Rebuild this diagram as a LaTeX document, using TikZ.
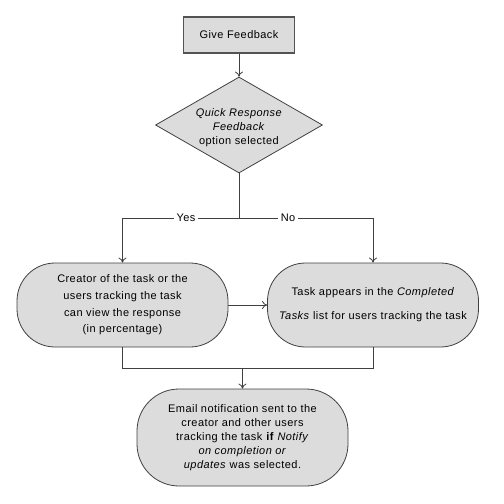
\documentclass[tikz,border=0pt]{standalone}
\usepackage{fontspec}
\setmainfont{Liberation Sans}[LetterSpace=4]
\usetikzlibrary{shapes.geometric,arrows.meta}
\definecolor{boxfill}{HTML}{DCDCDC}
\definecolor{boxline}{HTML}{404040}
\definecolor{conn}{HTML}{404040}
\begin{document}
\begin{tikzpicture}[x=1pt,y=-1pt,
  every node/.style={font=\fontsize{11}{14}\selectfont, text=black},
  gfbox/.style={draw=boxline!90, line width=1.6pt, fill=boxfill, minimum width=111pt, minimum height=36pt, inner sep=0pt},
  decbox/.style={draw=boxline, line width=0.8pt, fill=boxfill, diamond, aspect=1.74, minimum width=167pt, minimum height=96pt, inner sep=0pt},
  termbox/.style={draw=boxline, line width=0.8pt, fill=boxfill, rounded corners=38pt, minimum width=211pt, minimum height=84pt, inner sep=0pt, align=center},
  conline/.style={draw=conn, line width=0.8pt},
  arr/.style={conline, -{To[length=5pt,width=8pt]}},
  lbl/.style={fill=white, inner sep=3pt}
]
\useasboundingbox (0,0) rectangle (504,504);
\node[gfbox] (gf) at (239,35) {Give Feedback};
\node[decbox] (dec) at (239,125) {};
\node[align=center] (dectxt) at (239,128) {\textit{Quick Response}\\\textit{Feedback}\\option selected};
\node[termbox, font=\fontsize{11}{16.7}\selectfont] (left) at (122.5,305) {Creator of the task or the\\users tracking the task\\can view the response\\(in percentage)};
\node[termbox, font=\fontsize{11}{24}\selectfont] (right) at (373,305) {Task appears in the \textit{Completed}\\\textit{Tasks} list for users tracking the task};
\node[termbox, minimum height=97pt, rounded corners=42pt] (bot) at (242.5,437.5) {Email notification sent to the\\creator and other users\\tracking the task \textbf{if} \textit{Notify}\\\textit{on completion or}\\\textit{updates} was selected.};
\coordinate (split) at (239,218);
\coordinate (yl) at (122.5,218);
\coordinate (nr) at (373,218);
\coordinate (jl) at (122.5,368);
\coordinate (jr) at (373,368);
\coordinate (jm) at (242.5,368);
\draw[arr] (gf.south) -- (dec.north);
\draw[conline] (dec.south) -- (split);
\draw[arr] (split) -- (yl) -- (left.north);
\draw[arr] (split) -- (nr) -- (right.north);
\node[lbl] (yes) at (186,218) {Yes};
\node[lbl] (no) at (288,218) {No};
\draw[arr] (left.east) -- (right.west);
\draw[conline] (left.south) -- (jl) -- (jr) -- (right.south);
\draw[arr] (jm) -- (bot.north);
\end{tikzpicture}
\end{document}
